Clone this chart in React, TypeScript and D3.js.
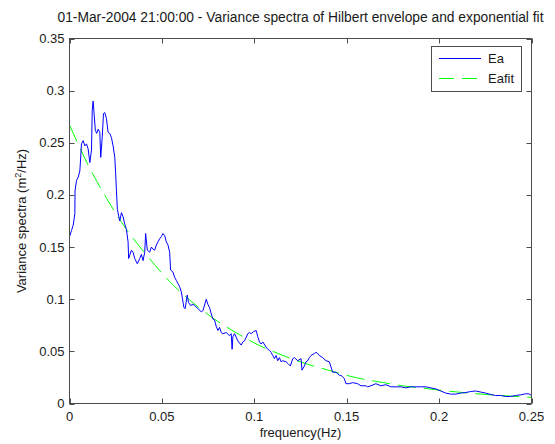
import React from "react";
import * as d3 from "d3";

const TITLE = "01-Mar-2004 21:00:00 - Variance spectra of Hilbert envelope and exponential fit";
const X_LABEL = "frequency(Hz)";
const X_TICKS = [0, 0.05, 0.1, 0.15, 0.2, 0.25];
const X_TICK_LABELS = ["0", "0.05", "0.1", "0.15", "0.2", "0.25"];
const Y_TICKS = [0, 0.05, 0.1, 0.15, 0.2, 0.25, 0.3, 0.35];
const Y_TICK_LABELS = ["0", "0.05", "0.1", "0.15", "0.2", "0.25", "0.3", "0.35"];
const SERIES_NAMES = ["Ea", "Eafit"];

// Ea: variance spectrum of the Hilbert envelope
const eaFreq = [
  0.0, 0.0011, 0.002, 0.0029, 0.003, 0.0038, 0.0047, 0.0056, 0.0065, 0.0074,
  0.0083, 0.0092, 0.0101, 0.011, 0.0119, 0.0123, 0.0128, 0.0133, 0.014, 0.0147,
  0.0155, 0.0164, 0.0169, 0.0177, 0.0184, 0.0191, 0.02, 0.0209, 0.0218, 0.0227,
  0.0236, 0.0245, 0.025, 0.0254, 0.0259, 0.0272, 0.0281, 0.029, 0.0299, 0.0308,
  0.0317, 0.032, 0.0335, 0.0344, 0.0353, 0.0367, 0.038, 0.0389, 0.0398, 0.0407,
  0.0412, 0.0421, 0.0434, 0.0443, 0.0452, 0.0461, 0.047, 0.0479, 0.0488, 0.0497,
  0.0506, 0.0515, 0.0524, 0.0533, 0.0542, 0.0547, 0.056, 0.0569, 0.0578, 0.0587,
  0.0596, 0.0605, 0.061, 0.0619, 0.0626, 0.0637, 0.0644, 0.0655, 0.0668, 0.0677,
  0.0695, 0.0713, 0.0722, 0.074, 0.0749, 0.0758, 0.0767, 0.0776, 0.0785, 0.0794,
  0.0803, 0.0812, 0.0821, 0.083, 0.0848, 0.0866, 0.0875, 0.088, 0.0884, 0.0893,
  0.0911, 0.0929, 0.0938, 0.0947, 0.0965, 0.0974, 0.0983, 0.0997, 0.101, 0.1019,
  0.1028, 0.1037, 0.1046, 0.1064, 0.1073, 0.1082, 0.1091, 0.11, 0.1109, 0.1118,
  0.1127, 0.1136, 0.1145, 0.1154, 0.1172, 0.1184, 0.1195, 0.1208, 0.1217, 0.1235,
  0.1253, 0.1258, 0.1271, 0.128, 0.1289, 0.1298, 0.1307, 0.1325, 0.1334, 0.1343,
  0.1352, 0.137, 0.1388, 0.1406, 0.1415, 0.1424, 0.1442, 0.146, 0.1469, 0.1487,
  0.1496, 0.1514, 0.1532, 0.1559, 0.1577, 0.1604, 0.1613, 0.1631, 0.1658, 0.1685,
  0.1712, 0.1739, 0.1766, 0.1793, 0.182, 0.1847, 0.1874, 0.1901, 0.1928, 0.1955,
  0.1982, 0.2009, 0.2036, 0.2063, 0.209, 0.2117, 0.2144, 0.2171, 0.2198, 0.2225,
  0.2252, 0.2279, 0.2306, 0.2333, 0.236, 0.2387, 0.2414, 0.2441, 0.2468, 0.2486,
  0.25,
];
const eaValue = [
  0.16, 0.166, 0.171, 0.182, 0.204, 0.214, 0.217, 0.223, 0.249, 0.252,
  0.247, 0.249, 0.244, 0.231, 0.243, 0.281, 0.29, 0.278, 0.262, 0.259,
  0.263, 0.26, 0.236, 0.255, 0.278, 0.279, 0.273, 0.26, 0.259, 0.255,
  0.247, 0.236, 0.22, 0.204, 0.186, 0.175, 0.183, 0.179, 0.172, 0.167,
  0.155, 0.139, 0.147, 0.145, 0.139, 0.134, 0.139, 0.143, 0.137, 0.145,
  0.163, 0.147, 0.145, 0.15, 0.148, 0.147, 0.152, 0.155, 0.158, 0.16,
  0.163, 0.161, 0.155, 0.152, 0.145, 0.128, 0.126, 0.121, 0.118, 0.115,
  0.112, 0.107, 0.102, 0.092, 0.091, 0.104, 0.097, 0.094, 0.095, 0.094,
  0.091, 0.088, 0.089, 0.1, 0.095, 0.092, 0.086, 0.081, 0.08, 0.074,
  0.07, 0.073, 0.068, 0.067, 0.068, 0.065, 0.067, 0.052, 0.064, 0.067,
  0.06, 0.056, 0.059, 0.06, 0.067, 0.068, 0.067, 0.069, 0.07, 0.064,
  0.059, 0.057, 0.059, 0.054, 0.052, 0.051, 0.049, 0.046, 0.043, 0.046,
  0.041, 0.044, 0.04, 0.041, 0.04, 0.038, 0.036, 0.043, 0.044, 0.041,
  0.043, 0.032, 0.036, 0.04, 0.041, 0.044, 0.046, 0.048, 0.049, 0.048,
  0.046, 0.044, 0.041, 0.04, 0.035, 0.03, 0.03, 0.027, 0.027, 0.024,
  0.019, 0.019, 0.02, 0.019, 0.017, 0.017, 0.016, 0.017, 0.019, 0.017,
  0.018, 0.016, 0.016, 0.016, 0.015, 0.016, 0.016, 0.016, 0.016, 0.015,
  0.014, 0.012, 0.01, 0.009, 0.009, 0.01, 0.0105, 0.0115, 0.012, 0.011,
  0.01, 0.0086, 0.0077, 0.0077, 0.0067, 0.0067, 0.0077, 0.0083, 0.0093, 0.0093,
  0.0077,
];

// Eafit: exponential fit
const fitFreq = [
  0, 0.01, 0.02, 0.03, 0.04, 0.05, 0.06, 0.07, 0.08, 0.09, 0.1, 0.11, 0.12,
  0.13, 0.14, 0.15, 0.16, 0.17, 0.18, 0.19, 0.2, 0.21, 0.22, 0.23, 0.24, 0.25,
];
const fitValue = [
  0.267, 0.229, 0.197, 0.169, 0.146, 0.125, 0.107, 0.092, 0.079, 0.068, 0.058,
  0.05, 0.043, 0.037, 0.032, 0.027, 0.023, 0.02, 0.017, 0.015, 0.0128, 0.011,
  0.0094, 0.0081, 0.0069, 0.0059,
];

const W = 555;
const H = 444;
const L = 69.5;
const R = 531.5;
const T = 38.5;
const B = 403.5;
const FONT = "'Liberation Sans', Arial, Helvetica, sans-serif";
const FS = 13;
const TEXT = "#1a1a1a";
const AXIS = "#4d4d4d";

export default function App() {
  const x = d3.scaleLinear().domain([0, 0.25]).range([L, R]);
  const y = d3.scaleLinear().domain([0, 0.35]).range([B, T]);

  const ea = eaFreq.map((f, i) => [f, eaValue[i]] as [number, number]);
  const fit = fitFreq.map((f, i) => [f, fitValue[i]] as [number, number]);

  const eaLine = d3
    .line<[number, number]>()
    .x((d) => x(d[0]))
    .y((d) => y(d[1]));
  const fitLine = d3
    .line<[number, number]>()
    .x((d) => x(d[0]))
    .y((d) => y(d[1]))
    .curve(d3.curveNatural);

  const tl = 5;
  const legX = 431.5;
  const legY = 46.5;
  const legW = 90;
  const legH = 45;

  return (
    <svg
      width={W}
      height={H}
      style={{ position: "absolute", left: 0, top: 0, background: "#fff" }}
      fontFamily={FONT}
      fontSize={FS}
    >
      <rect x={0} y={0} width={W} height={H} fill="#fff" />
      <text x={(L + R) / 2} y={22} textAnchor="middle" fill={TEXT} fontSize={13.8}>
        {TITLE}
      </text>

      <defs>
        <clipPath id="plotclip">
          <rect x={L} y={T} width={R - L} height={B - T} />
        </clipPath>
      </defs>

      <g clipPath="url(#plotclip)">
        <path d={fitLine(fit) || ""} fill="none" stroke="#00ff00" strokeWidth={1} strokeDasharray="18,8" />
        <path d={eaLine(ea) || ""} fill="none" stroke="#0000ff" strokeWidth={1} />
      </g>

      {/* axes box */}
      <rect x={L} y={T} width={R - L} height={B - T} fill="none" stroke={AXIS} strokeWidth={1} />

      {X_TICKS.map((t, i) => (
        <g key={"xt" + i}>
          <line x1={Math.round(x(t)) + 0.5} x2={Math.round(x(t)) + 0.5} y1={B} y2={B - tl} stroke={AXIS} />
          <line x1={Math.round(x(t)) + 0.5} x2={Math.round(x(t)) + 0.5} y1={T} y2={T + tl} stroke={AXIS} />
          <text x={x(t)} y={B + 17} textAnchor="middle" fill={TEXT}>
            {X_TICK_LABELS[i]}
          </text>
        </g>
      ))}
      {Y_TICKS.map((t, i) => (
        <g key={"yt" + i}>
          <line x1={L} x2={L + tl} y1={Math.round(y(t)) + 0.5} y2={Math.round(y(t)) + 0.5} stroke={AXIS} />
          <line x1={R} x2={R - tl} y1={Math.round(y(t)) + 0.5} y2={Math.round(y(t)) + 0.5} stroke={AXIS} />
          <text x={L - 5} y={y(t) + 4.5} textAnchor="end" fill={TEXT}>
            {Y_TICK_LABELS[i]}
          </text>
        </g>
      ))}

      <text x={(L + R) / 2} y={437} textAnchor="middle" fill={TEXT}>
        {X_LABEL}
      </text>
      <text
        transform={`translate(26, ${(T + B) / 2}) rotate(-90)`}
        textAnchor="middle"
        fill={TEXT}
      >
        Variance spectra (m<tspan dy={-5} fontSize={9}>2</tspan>
        <tspan dy={5}>/Hz)</tspan>
      </text>

      {/* legend */}
      <rect x={legX} y={legY} width={legW} height={legH} fill="#fff" stroke={AXIS} />
      <line x1={439} x2={481} y1={58.5} y2={58.5} stroke="#0000ff" />
      <text x={488} y={63} fill={TEXT}>
        {SERIES_NAMES[0]}
      </text>
      <line x1={439} x2={481} y1={78.5} y2={78.5} stroke="#00ff00" strokeDasharray="15,8" />
      <text x={488} y={83} fill={TEXT}>
        {SERIES_NAMES[1]}
      </text>
    </svg>
  );
}
